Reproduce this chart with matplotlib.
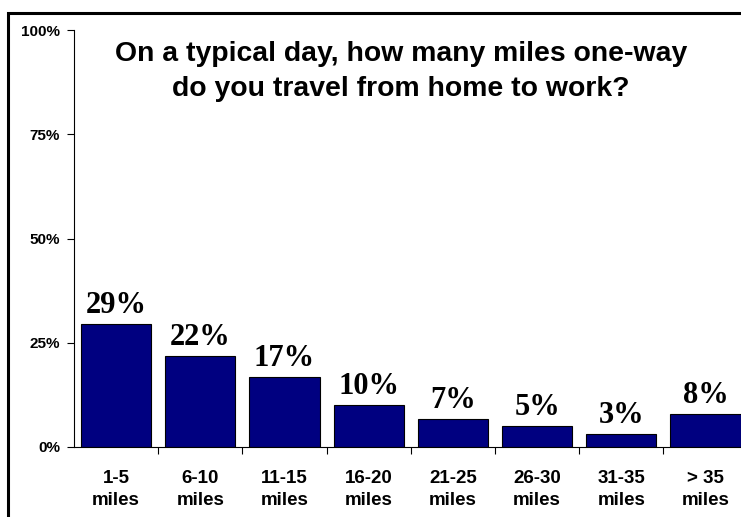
import matplotlib.pyplot as plt
from matplotlib.patches import Rectangle

categories = ["1-5\nmiles", "6-10\nmiles", "11-15\nmiles", "16-20\nmiles",
              "21-25\nmiles", "26-30\nmiles", "31-35\nmiles", "> 35\nmiles"]
values = [29.5, 21.8, 16.8, 10.0, 6.7, 5.1, 3.1, 7.8]
value_labels = ["29%", "22%", "17%", "10%", "7%", "5%", "3%", "8%"]
yticks = [0, 25, 50, 75, 100]
ytick_labels = ["0%", "25%", "50%", "75%", "100%"]

W, H = 741, 517
fig = plt.figure(figsize=(W / 100, H / 100), dpi=100)

# axes box in pixels: left 74, right ~747, top 30, bottom 447
ax = fig.add_axes([74 / W, (H - 447) / H, (747.6 - 74) / W, (447 - 30) / H])

x = list(range(len(categories)))
ax.bar(x, values, width=0.835, color="#000080", edgecolor="black", linewidth=0.8)

for xi, v, lab in zip(x, values, value_labels):
    ax.annotate(lab, (xi, v), xytext=(0, 3), textcoords="offset points",
                ha="center", va="bottom", family="Liberation Serif",
                fontweight="bold", fontsize=22)

ax.set_xlim(-0.5, len(categories) - 0.5)
ax.set_ylim(0, 100)
ax.set_yticks(yticks)
ax.set_yticklabels(ytick_labels, family="Liberation Sans", fontweight="bold", fontsize=11)
ax.tick_params(axis="y", length=5, width=0.8, pad=5)

# category labels between boundary ticks
ax.set_xticks([i + 0.5 for i in x[:-1]])
ax.set_xticklabels([])
ax.tick_params(axis="x", length=5, width=0.8)
for xi, c in zip(x, categories):
    ax.text(xi, -5.4, c, ha="center", va="top", family="Liberation Sans",
            fontweight="bold", fontsize=13.5, linespacing=1.45)

for s in ["top", "right"]:
    ax.spines[s].set_visible(False)
for s in ["left", "bottom"]:
    ax.spines[s].set_linewidth(0.8)

fig.text(401 / W, 1 - 71 / H, "On a typical day, how many miles one-way\ndo you travel from home to work?",
         ha="center", va="center", family="Liberation Sans", fontweight="bold",
         fontsize=20.4, linespacing=1.45)

# outer frame (right and bottom edges fall outside the image)
fig.patches.append(Rectangle((7.5 / W, -0.1), 1.2, 1 - 12.5 / H + 0.1,
                             transform=fig.transFigure, fill=False,
                             edgecolor="black", linewidth=2.2, clip_on=False))

fig.savefig("out.png", dpi=100)
